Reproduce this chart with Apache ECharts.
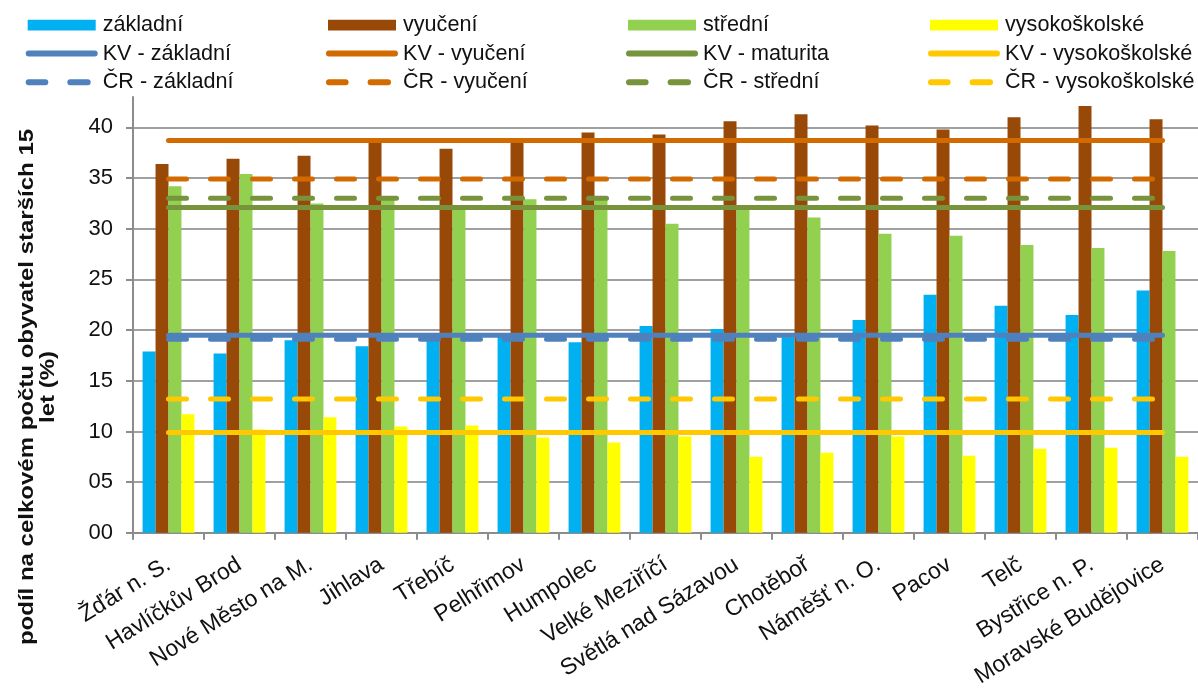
<!DOCTYPE html>
<html><head><meta charset="utf-8">
<script src="https://cdn.jsdelivr.net/npm/echarts@6/dist/echarts.min.js"></script>
<style>html,body{margin:0;padding:0;background:#fff}#c{width:1198px;height:690px}</style>
</head><body><div id="c"></div>
<script>
var categories = ['Žďár n. S.','Havlíčkův Brod','Nové Město na M.','Jihlava','Třebíč','Pelhřimov','Humpolec','Velké Meziříčí','Světlá nad Sázavou','Chotěboř','Náměšť n. O.','Pacov','Telč','Bystřice n. P.','Moravské Budějovice'];
var zakladni = [17.9,17.7,19.0,18.4,19.3,19.4,18.8,20.4,20.1,19.3,21.0,23.5,22.4,21.5,23.9];
var vyuceni = [36.4,36.9,37.2,38.5,37.9,38.6,39.5,39.3,40.6,41.3,40.2,39.8,41.0,42.1,40.8];
var stredni = [34.2,35.4,32.5,32.9,32.0,32.9,33.0,30.5,32.2,31.1,29.5,29.3,28.4,28.1,27.8];
var vysokoskolske = [11.7,10.2,11.4,10.5,10.6,9.4,8.9,9.5,7.5,7.9,9.5,7.6,8.3,8.4,7.5];
var kvZakladni = 19.5, kvVyuceni = 38.7, kvMaturita = 32.1, kvVysoko = 9.9;
var crZakladni = 19.1, crVyuceni = 34.9, crStredni = 33.0, crVysoko = 13.2;
var yTicks = ['00','05','10','15','20','25','30','35','40'];

function flat(v){ return categories.map(function(){ return v; }); }
var chart = echarts.init(document.getElementById('c'));
var FONT = 'Liberation Sans, Arial, sans-serif';
var ANCH = 'M0,0L0.01,0L0,0.01Z M71.99,12L72,12L72,11.99Z ';
var ICON_BAR = 'path://' + ANCH + 'M2,0.7L70,0.7L70,11.4L2,11.4Z';
var ICON_SOLID = 'path://' + ANCH + 'M3,3L69,3Q72,3 72,6Q72,9 69,9L3,9Q0,9 0,6Q0,3 3,3Z';
var ICON_DASH = 'path://' + ANCH + 'M3,3L19.6,3Q22.6,3 22.6,6Q22.6,9 19.6,9L3,9Q0,9 0,6Q0,3 3,3Z M44.6,3L62,3Q65,3 65,6Q65,9 62,9L44.6,9Q41.6,9 41.6,6Q41.6,3 44.6,3Z';

function bar(name, data, color){
  return {name:name, type:'bar', data:data, barGap:'0%', barCategoryGap:'27%', itemStyle:{color:color}, z:2};
}
function line(name, v, color, dashed){
  return {name:name, type:'line', data:flat(v), symbol:'none', z:5,
    lineStyle:{color:color, width:5, cap:'round', type: dashed ? [18,24] : 'solid'},
    itemStyle:{color:color}};
}
function legend(left, names){
  return {left:left, top:9, orient:'vertical', itemWidth:72, itemHeight:12, itemGap:6.6,
    itemStyle:{borderWidth:0},
    textStyle:{fontFamily:FONT, fontSize:21.6, color:'#111'},
    data:[{name:names[0], icon:ICON_BAR},{name:names[1], icon:ICON_SOLID},{name:names[2], icon:ICON_DASH}]};
}
chart.setOption({
  animation:false,
  grid:{left:133, top:97, width:1074, height:436},
  legend:[
    legend(20.7, ['základní','KV - základní','ČR - základní']),
    legend(321, ['vyučení','KV - vyučení','ČR - vyučení']),
    legend(621, ['střední','KV - maturita','ČR - střední']),
    legend(923, ['vysokoškolské','KV - vysokoškolské','ČR - vysokoškolské'])
  ],
  xAxis:{type:'category', data:categories, boundaryGap:true,
    axisLine:{lineStyle:{color:'#8c8c8c', width:2}},
    axisTick:{show:true, length:7, lineStyle:{color:'#8c8c8c', width:2}},
    axisLabel:{interval:0, rotate:32, margin:30, fontFamily:FONT, fontSize:23, color:'#111'}},
  yAxis:{type:'value', min:0, max:43, interval:5,
    axisLine:{show:true, lineStyle:{color:'#8c8c8c', width:2}},
    axisTick:{show:true, length:7, lineStyle:{color:'#8c8c8c', width:2}},
    splitLine:{show:true, showMaxLine:false, lineStyle:{color:'#a0a0a0', width:2}},
    axisLabel:{showMaxLabel:false, margin:20, fontFamily:FONT, fontSize:22, color:'#111',
      formatter:function(v){ var i = Math.round(v/5); return (v % 5 === 0 && yTicks[i]) ? yTicks[i] : ''; }}},
  graphic:[{type:'text', x:38, y:387, rotation:Math.PI/2, scaleX:1.2, scaleY:1,
    style:{text:'podíl na celkovém počtu obyvatel starších 15\nlet (%)', font:'bold 20px Liberation Sans, Arial, sans-serif',
      fill:'#111', align:'center', verticalAlign:'middle', lineHeight:21.5}}],
  series:[
    bar('základní', zakladni, '#00B0F0'),
    bar('vyučení', vyuceni, '#984807'),
    bar('střední', stredni, '#92D050'),
    bar('vysokoškolské', vysokoskolske, '#FFFF00'),
    line('KV - základní', kvZakladni, '#4F81BD', false),
    line('KV - vyučení', kvVyuceni, '#D36A00', false),
    line('KV - maturita', kvMaturita, '#77933C', false),
    line('KV - vysokoškolské', kvVysoko, '#FFC800', false),
    line('ČR - základní', crZakladni, '#4F81BD', true),
    line('ČR - vyučení', crVyuceni, '#D36A00', true),
    line('ČR - střední', crStredni, '#77933C', true),
    line('ČR - vysokoškolské', crVysoko, '#FFC800', true)
  ]
});
</script></body></html>
